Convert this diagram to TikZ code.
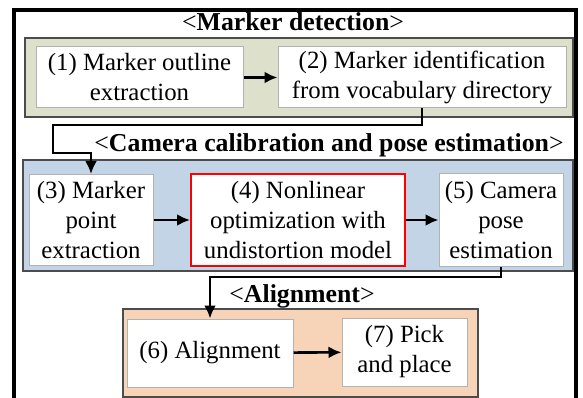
\documentclass[tikz,border=0pt]{standalone}
\usepackage{fontspec}
\setmainfont{Liberation Serif}
\usetikzlibrary{arrows.meta}
\definecolor{panelgreen}{HTML}{DDE1CB}
\definecolor{panelblue}{HTML}{C3D4E6}
\definecolor{panelpeach}{HTML}{F7D3B7}
\tikzset{
  stagebox/.style={draw=gray!60,line width=1pt,fill=white,align=center,inner sep=0pt,font=\fontsize{24.8}{30}\selectfont},
  panel/.style={draw=black!70,line width=2.2pt},
  flow/.style={->,line width=2.6pt},
  heading/.style={font=\fontsize{25.8}{30}\selectfont},
}
\begin{document}
\begin{tikzpicture}[x=1pt,y=-1pt,>={Latex[length=13pt,width=12pt]}]
\useasboundingbox (0,0) rectangle (583,398);
\clip (0,0) rectangle (583,398);
% outer frame
\draw[line width=4pt] (14,405) |- (575.5,10) -- (575.5,405);
% panels
\draw[panel,fill=panelgreen] (25,38) rectangle (573,117);
\draw[panel,fill=panelblue] (23,160) rectangle (573,271);
\draw[panel,fill=panelpeach] (123,309) rectangle (478,397);
% headings
\node[heading] (h1) at (293,22) {<\textbf{Marker detection}>};
\node[heading] (h2) at (329,145) {<\textbf{Camera calibration and pose estimation}>};
\node[heading] (h3) at (302,296) {<\textbf{Alignment}>};
% stages
\foreach \n/\pos/\w/\h/\txt in {1/{139.5,77.5}/207/61/{(1) Marker outline\\extraction},
  2/{422,77.5}/288/61/{(2) Marker identification\\from vocabulary directory},
  3/{91,220}/124/91/{(3) Marker\\point\\extraction},
  5/{501,220}/124/92/{(5) Camera\\pose\\estimation},
  6/{210,353}/166/68/{(6) Alignment},
  7/{404.5,352}/125/68/{(7) Pick\\and place}}
{
    \node[stagebox,minimum width=\w pt,minimum height=\h pt] (s\n) at (\pos) {\txt};
}
\node[stagebox,draw=red,line width=2pt,minimum width=214pt,minimum height=92pt] (s4) at (298,220) {(4) Nonlinear\\optimization with\\undistortion model};
% arrows
\draw[flow] (s1) -- (s2);
\draw[flow] (s3) -- (s4);
\draw[flow] (s4) -- (s5);
\draw[flow] (s6) -- (s7);
\coordinate (c1) at (53,125);
\coordinate (c2) at (53,153);
\draw[flow] (s2.south) |- (c1) -- (c2) -| (s3.north);
\coordinate (c3) at (210,277);
\draw[flow] (s5.south) |- (c3) -- (s6.north);
\end{tikzpicture}
\end{document}
